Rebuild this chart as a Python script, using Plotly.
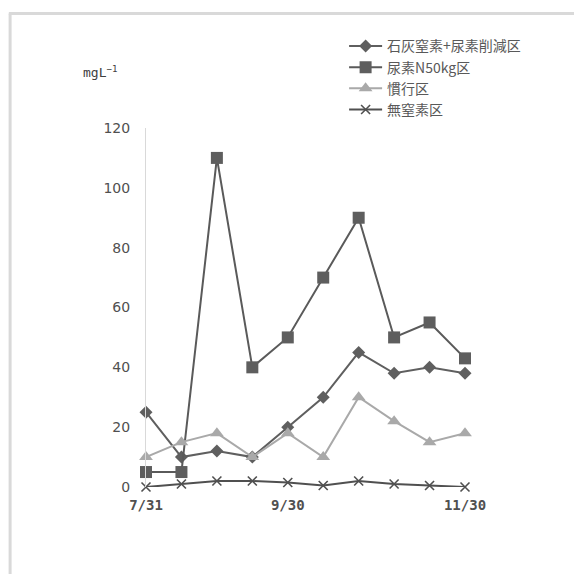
import plotly.graph_objects as go

dates = ["7/31", "d2", "d3", "d4", "9/30", "d6", "d7", "d8", "d9", "11/30"]
tick_labels = {"7/31": "7/31", "9/30": "9/30", "11/30": "11/30"}

s1_name = "石灰窒素+尿素削減区"
s1 = [25, 10, 12, 10, 20, 30, 45, 38, 40, 38]
s2_name = "尿素N50kg区"
s2 = [5, 5, 110, 40, 50, 70, 90, 50, 55, 43]
s3_name = "慣行区"
s3 = [10, 15, 18, 10, 18, 10, 30, 22, 15, 18]
s4_name = "無窒素区"
s4 = [0, 1, 2, 2, 1.5, 0.5, 2, 1, 0.5, 0]

x = list(range(len(dates)))
font_family = "Noto Sans CJK JP, Noto Sans, sans-serif"

fig = go.Figure()
fig.add_trace(go.Scatter(x=x, y=s1, name=s1_name, mode="lines+markers",
                         line=dict(color="#5f5f5f", width=2),
                         marker=dict(symbol="diamond", size=10, color="#5f5f5f"),
                         cliponaxis=False))
fig.add_trace(go.Scatter(x=x, y=s2, name=s2_name, mode="lines+markers",
                         line=dict(color="#5a5a5a", width=2),
                         marker=dict(symbol="square", size=12, color="#5e5e5e"),
                         cliponaxis=False))
fig.add_trace(go.Scatter(x=x, y=s3, name=s3_name, mode="lines+markers",
                         line=dict(color="#a9a9a9", width=2),
                         marker=dict(symbol="triangle-up", size=12, color="#a9a9a9"),
                         cliponaxis=False))
fig.add_trace(go.Scatter(x=x, y=s4, name=s4_name, mode="lines+markers",
                         line=dict(color="#505050", width=2),
                         marker=dict(symbol="x-thin", size=9, color="#505050",
                                     line=dict(width=1.6, color="#505050")),
                         cliponaxis=False))

tickvals = [i for i, d in enumerate(dates) if d in tick_labels]
ticktext = [tick_labels[dates[i]] for i in tickvals]

fig.update_layout(
    width=574, height=566,
    margin=dict(l=138, r=117, t=120, b=87),
    paper_bgcolor="white", plot_bgcolor="white",
    font=dict(family=font_family, color="#595959", size=13),
    showlegend=True,
    legend=dict(x=0.621, y=1.272, xanchor="left", yanchor="top",
                font=dict(size=14, color="#595959"),
                bgcolor="rgba(0,0,0,0)", tracegroupgap=0, itemwidth=33),
    xaxis=dict(range=[0, 9], tickmode="array", tickvals=tickvals, ticktext=ticktext,
               showgrid=False, zeroline=False, showline=False, ticks="",
               ticklabelstandoff=8,
               tickfont=dict(size=14, color="#505050", family="DejaVu Sans Mono, monospace", weight="bold")),
    yaxis=dict(range=[0, 120], dtick=20, showgrid=False, zeroline=False,
               showline=True, linecolor="#d9d9d9", linewidth=1, ticks="",
               ticklabelstandoff=12,
               tickfont=dict(size=14, color="#505050", family="DejaVu Sans, sans-serif")),
    annotations=[dict(text="mgL<sup>−1</sup>", x=-0.205, y=1.155, xref="paper", yref="paper",
                      xanchor="left", yanchor="middle", showarrow=False,
                      font=dict(size=13, color="#404040", family="DejaVu Sans Mono, monospace"))],
    shapes=[
        dict(type="line", xref="paper", yref="paper", x0=-0.43, x1=1.4, y0=1.319, y1=1.319,
             line=dict(color="#d9d9d9", width=3)),
        dict(type="line", xref="paper", yref="paper", x0=-0.426, x1=-0.426, y0=1.319, y1=-0.3,
             line=dict(color="#d9d9d9", width=3)),
    ],
)

fig.write_html("out.html")
